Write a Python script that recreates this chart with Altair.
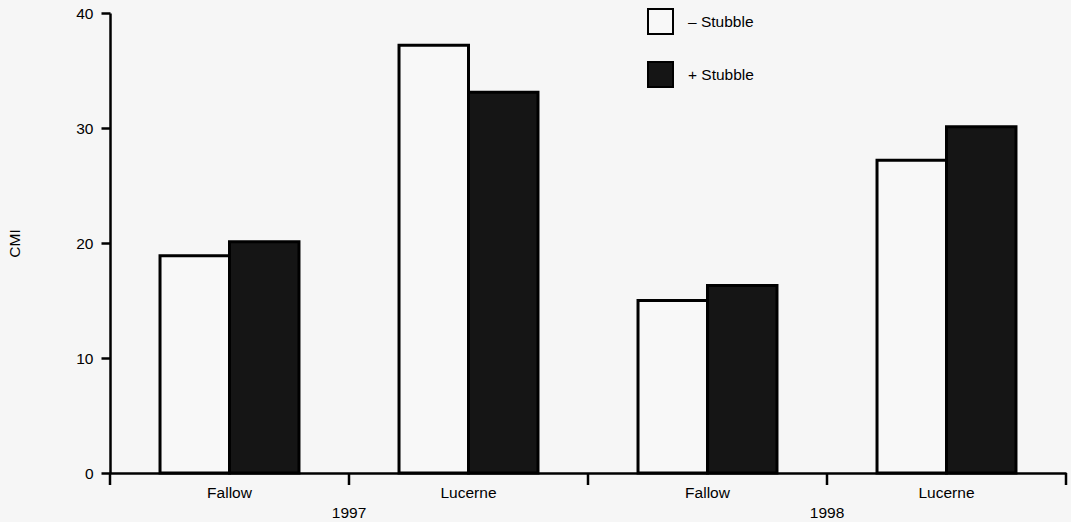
import altair as alt
import pandas as pd

# ---- data ----
groups = ["Fallow 1997", "Lucerne 1997", "Fallow 1998", "Lucerne 1998"]
stubble = ["– Stubble", "+ Stubble"]
minus_stubble = [18.9, 37.2, 15.0, 27.2]
plus_stubble = [20.1, 33.1, 16.3, 30.1]
years = ["1997", "1998"]
year_groups = ["Lucerne 1997", "Lucerne 1998"]
y_ticks = [0, 10, 20, 30, 40]

rows = []
for g, m, p in zip(groups, minus_stubble, plus_stubble):
    rows.append({"group": g, "stubble": stubble[0], "cmi": m})
    rows.append({"group": g, "stubble": stubble[1], "cmi": p})
bars_df = pd.DataFrame(rows)
year_df = pd.DataFrame({"group": year_groups, "year": years})
tick_df = pd.DataFrame({"group": groups})
end_df = pd.DataFrame({"group": [groups[-1]]})

FONT = "Liberation Sans"
FS = 15.5
W, H = 956, 460

xscale = alt.Scale(domain=groups, paddingInner=0, paddingOuter=0)
xaxis = alt.Axis(title=None, ticks=False, tickSize=0, labelAngle=0,
                 labelExpr="split(datum.label, ' ')[0]",
                 labelPadding=12, labelFontSize=FS, labelFont=FONT,
                 labelColor="black", domainColor="black", domainWidth=2.5)

bars = alt.Chart(bars_df).mark_bar(stroke="black", strokeWidth=3).encode(
    x=alt.X("group:N", scale=xscale, sort=groups, axis=xaxis),
    xOffset=alt.XOffset("stubble:N",
                        scale=alt.Scale(domain=stubble, paddingInner=0,
                                        paddingOuter=0.72)),
    y=alt.Y("cmi:Q", scale=alt.Scale(domain=[0, 40], nice=False),
            axis=alt.Axis(values=y_ticks, grid=False, tickSize=9,
                          tickWidth=2.5, tickColor="black", domainColor="black",
                          domainWidth=2.5, labelFontSize=FS, labelFont=FONT,
                          labelColor="black", labelPadding=8, title="CMI",
                          titleFont=FONT, titleFontSize=FS,
                          titleFontWeight="normal", titleColor="black",
                          titleAngle=270, titleBaseline="alphabetic",
                          titleAlign="center", titleX=-91, titleY=H / 2)),
    color=alt.Color("stubble:N",
                    scale=alt.Scale(domain=stubble,
                                    range=["#f8f8f8", "#151515"]),
                    legend=alt.Legend(orient="none", legendX=537, legendY=-5,
                                      title=None, symbolType="square",
                                      symbolSize=625, symbolStrokeColor="black",
                                      symbolStrokeWidth=2, labelFontSize=FS,
                                      labelFont=FONT, labelColor="black",
                                      labelOffset=14, rowPadding=20,
                                      padding=0)),
)

ticks = alt.Chart(tick_df).mark_rule(color="black", strokeWidth=2.5).encode(
    x=alt.X("group:N", scale=xscale, sort=groups, bandPosition=0, axis=xaxis),
    y=alt.value(H),
    y2=alt.value(H + 12),
)

end_tick = alt.Chart(end_df).mark_rule(color="black", strokeWidth=2.5).encode(
    x=alt.X("group:N", scale=xscale, sort=groups, bandPosition=1, axis=xaxis),
    y=alt.value(H),
    y2=alt.value(H + 12),
)

year_text = alt.Chart(year_df).mark_text(
    font=FONT, fontSize=FS, color="black", baseline="alphabetic",
    align="center").encode(
    x=alt.X("group:N", scale=xscale, sort=groups, bandPosition=0, axis=xaxis),
    y=alt.value(H + 45),
    text="year:N",
)

chart = alt.layer(bars, ticks, end_tick, year_text).properties(
    width=W, height=H,
    background="#f6f6f6",
    autosize=alt.AutoSizeParams(type="none"),
    padding={"left": 110, "top": 13, "right": 5, "bottom": 49},
).configure_view(stroke=None)

chart.save("out.html", embed_options={"renderer": "svg", "actions": False})
